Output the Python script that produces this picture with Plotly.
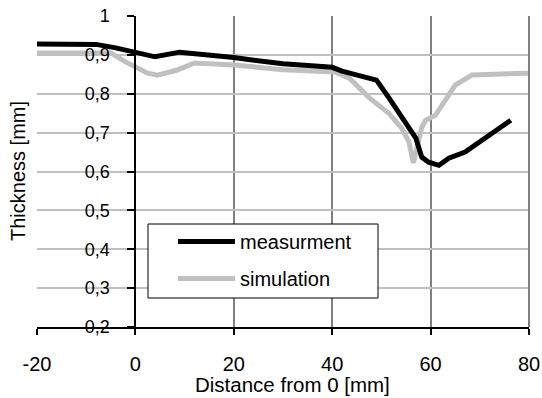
import plotly.graph_objects as go

# Thickness profile along the part
meas_x = [-20, -8, -4, 0, 4, 9, 15, 20, 30, 40, 42, 49, 51.5, 54, 57, 58.2, 59.6, 61.7, 63.7, 67, 70.4, 73.2, 76.3]
meas_y = [0.928, 0.927, 0.918, 0.906, 0.895, 0.907, 0.9, 0.893, 0.877, 0.868, 0.858, 0.835, 0.79, 0.74, 0.686,
          0.637, 0.624, 0.616, 0.634, 0.65, 0.681, 0.706, 0.732]

sim_x = [-20, -5, -2, 2.5, 4.5, 8.5, 12, 20, 30, 40.5, 43.5, 47.5, 51.5, 54.2, 55.6, 56.5, 58.2, 59, 61, 63, 65,
         68.4, 74, 80]
sim_y = [0.905, 0.905, 0.882, 0.853, 0.848, 0.861, 0.879, 0.874, 0.862, 0.856, 0.84, 0.79, 0.75, 0.71, 0.676,
         0.622, 0.714, 0.732, 0.745, 0.784, 0.822, 0.848, 0.85, 0.853]

x_ticks = [-20, 0, 20, 40, 60, 80]
x_ticktext = ["-20", "0", "20", "40", "60", "80"]
y_ticks = [0.2, 0.3, 0.4, 0.5, 0.6, 0.7, 0.8, 0.9, 1.0]
y_ticktext = ["0,2", "0,3", "0,4", "0,5", "0,6", "0,7", "0,8", "0,9", "1"]

FONT = "Liberation Sans, Arial, sans-serif"
W, H = 542, 398
ML, MR, MT, MB = 37, 13, 16, 71
PW, PH = W - ML - MR, H - MT - MB


def px_x(p):
    return (p - ML) / PW


def px_y(p):
    return (H - MB - p) / PH


fig = go.Figure()
fig.add_trace(go.Scatter(x=sim_x, y=sim_y, mode="lines", name="simulation", legendrank=2,
                         legendgroup="sim", line=dict(color="#c0c0c0", width=5)))
fig.add_trace(go.Scatter(x=meas_x, y=meas_y, mode="lines", name="measurment", legendrank=1,
                         legendgroup="meas", line=dict(color="#000000", width=5)))

fig.update_layout(
    width=W, height=H,
    margin=dict(l=ML, r=MR, t=MT, b=MB, autoexpand=False),
    paper_bgcolor="white", plot_bgcolor="white",
    font=dict(family=FONT, color="black"),
    showlegend=True,
    legend=dict(x=px_x(173), y=px_y(222), xanchor="left", yanchor="top",
                bgcolor="rgba(0,0,0,0)", borderwidth=0, itemwidth=57,
                font=dict(size=20, family=FONT), tracegroupgap=8),
    xaxis=dict(range=[-20, 80], tickvals=x_ticks, ticktext=x_ticktext, showgrid=True,
               gridcolor="#808080", gridwidth=2, automargin=False,
               zeroline=False, showline=True, linecolor="black", linewidth=2,
               ticks="outside", ticklen=6, tickwidth=2, tickcolor="black",
               tickfont=dict(size=20, family=FONT), ticklabelstandoff=12),
    yaxis=dict(range=[0.2, 1.0], tickvals=y_ticks, ticktext=y_ticktext, showgrid=True,
               gridcolor="#c0c0c0", gridwidth=2, zeroline=False, showline=True, automargin=False,
               linecolor="black", linewidth=2, anchor="free", position=0.2,
               ticks="outside", ticklen=7, tickwidth=2, tickcolor="black",
               tickfont=dict(size=18, family=FONT), ticklabelstandoff=14),
    shapes=[
        # legend frame
        dict(type="rect", xref="paper", yref="paper", x0=px_x(148), x1=px_x(378),
             y0=px_y(298), y1=px_y(224), line=dict(color="black", width=1), fillcolor="white", layer="above"),
        # right border of the plot area
        dict(type="line", xref="paper", yref="paper", x0=1, x1=1, y0=0, y1=1,
             line=dict(color="#808080", width=2)),
    ],
    annotations=[
        dict(text="Distance from 0 [mm]", xref="paper", yref="paper", x=px_x(292), y=px_y(384),
             showarrow=False, font=dict(size=20.5, family=FONT), xanchor="center", yanchor="middle"),
        dict(text="Thickness [mm]", xref="paper", yref="paper", x=px_x(18), y=px_y(171),
             showarrow=False, textangle=-90, font=dict(size=20, family=FONT),
             xanchor="center", yanchor="middle"),
    ],
)

fig.write_html("out.html")
